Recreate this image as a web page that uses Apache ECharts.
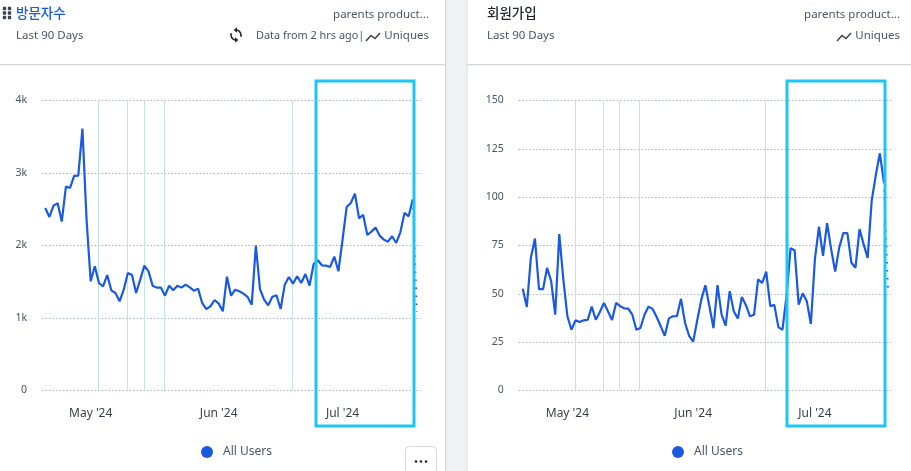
<!DOCTYPE html>
<html>
<head>
<meta charset="utf-8">
<style>html,body{margin:0;padding:0;background:#fff}#c{width:911px;height:471px}</style>
<script src="https://cdn.jsdelivr.net/npm/echarts@6/dist/echarts.min.js"></script>
</head>
<body>
<div id="c"></div>
<script>
var startDate = '2024-04-20';
var visitorValues = [2518,2394,2550,2582,2330,2812,2794,2960,2964,3613,2357,1506,1713,1483,1437,1593,1382,1345,1230,1391,1621,1593,1345,1529,1722,1644,1446,1419,1419,1308,1446,1382,1446,1419,1460,1423,1377,1405,1207,1124,1161,1248,1198,1092,1570,1308,1391,1368,1336,1290,1184,1998,1400,1253,1175,1294,1313,1124,1460,1566,1474,1575,1483,1607,1446,1745,1796,1727,1722,1704,1846,1644,2081,2532,2587,2716,2375,2421,2145,2191,2247,2136,2081,2053,2127,2035,2182,2449,2403,2633];
var visitorPartial = 1083;
var signupValues = [52.6,43.2,68.7,78.6,52.4,52.4,63.5,56.6,39.2,80.9,57.5,38.4,31.4,36.3,35.4,36.3,36.5,43.4,36.6,40.6,45.3,41,36.5,45.3,43.6,42.5,42.4,39.2,31.4,32.3,39.2,43.4,42.2,38,33.2,28.3,37.3,38.4,38.5,47.4,34.9,28.3,25.3,36.3,47,54.4,43.6,32.3,54.5,39.2,33.5,51.4,41,37.2,48.4,44.1,38.4,39.2,57.5,55.7,61.5,43.6,44.3,32.8,31.4,48.8,73.6,72.6,44.4,50.3,46.2,34.4,67.9,84.7,69.6,86.6,73.1,61.5,74,81.4,81.4,66.1,63.5,83.5,75.7,68.6,98.3,111.3,122.7,107.8];
var signupPartial = 52.8;
var monthTicks = ['2024-05-01','2024-06-01','2024-07-01'];
var annotationTimes = ['2024-05-02T20:00','2024-05-09T20:00','2024-05-13T21:00','2024-05-18T19:00','2024-06-18T19:00'];
var leftAxisStart = '2024-04-19T05:00';
var rightAxisStart = '2024-04-19T00:00';
var axisEnd = '2024-07-20';
var seriesName = 'All Users';
var monthNames = ['Jan','Feb','Mar','Apr','May','Jun','Jul','Aug','Sep','Oct','Nov','Dec'];

var DAY = 86400000;
var FONT = '"Noto Sans","Noto Sans CJK KR",sans-serif';
var BLUE = '#1a5ae0';
function ts(s){ return Date.parse((s.length===10 ? s+'T00:00' : s)+':00Z'); }
var T0 = ts(startDate);
function dayIndex(s){ return (ts(s)-T0)/DAY; }
function pairs(vals){ return vals.map(function(v,i){ return [i, v]; }); }
function partialPairs(vals, p){ var n = vals.length; return [[n-1, vals[n-1]],[n, p]]; }
function xAxis(idx,start){
  return {type:'value', gridIndex:idx, min:dayIndex(start), max:dayIndex(axisEnd),
    axisLine:{show:false}, axisTick:{show:false}, splitLine:{show:false},
    axisLabel:{customValues:monthTicks.map(dayIndex), margin:17, fontSize:12, fontFamily:FONT, color:'#3a3f47',
      formatter:function(v){ var d=new Date(T0+v*DAY); return monthNames[d.getUTCMonth()]+" '"+String(d.getUTCFullYear()).slice(2); }}};
}
function yAxis(idx,max,interval,fmt){
  return {type:'value', gridIndex:idx, min:0, max:max, interval:interval,
    axisLine:{show:false}, axisTick:{show:false},
    axisLabel:{margin:15, fontSize:10.5, fontFamily:FONT, color:'#4b5563', padding:[5,0,0,0], formatter:fmt},
    splitLine:{show:true, lineStyle:{type:[1.5,2], color:'#a7b3bf', width:1}}};
}
function lineSeries(idx,vals){
  return {name:seriesName, type:'line', xAxisIndex:idx, yAxisIndex:idx, data:pairs(vals), showSymbol:false, symbol:'none',
    lineStyle:{color:BLUE, width:2.2}, itemStyle:{color:BLUE}, z:3, silent:true, animation:false,
    markLine:{silent:true, symbol:'none', animation:false, label:{show:false}, z:1,
      lineStyle:{color:'#c3e5df', width:1, type:'solid'},
      data:annotationTimes.map(function(t){return {xAxis:dayIndex(t)};})}};
}
function partialSeries(idx,vals,p){
  return {name:'Partial', type:'line', xAxisIndex:idx, yAxisIndex:idx, data:partialPairs(vals,p), showSymbol:false, symbol:'none',
    lineStyle:{color:BLUE, width:2, type:[1.5,6.5]}, z:3, silent:true, animation:false};
}
function txt(s,x,y,size,fill,align,weight){
  return {type:'text', z:10, silent:true, style:{text:s, x:x, y:y, font:(weight||'400')+' '+size+'px '+FONT, fill:fill, align:align||'left', verticalAlign:'middle'}};
}
function rect(x,y,w,h,fill){ return {type:'rect', z:0, silent:true, shape:{x:x,y:y,width:w,height:h}, style:{fill:fill}}; }
function trend(ox){
  return {type:'polyline', z:10, silent:true, shape:{points:[[ox,41],[ox+5,35.5],[ox+9,38.5],[ox+14,33]]}, style:{stroke:'#3a3f47', lineWidth:1.4, fill:null}};
}
function box(x){
  return {type:'rect', z:20, silent:true, shape:{x:x,y:81,width:98,height:345}, style:{fill:null, stroke:'#1ec6f7', lineWidth:3}};
}
function arc(cx,cy,r,a,b){ return {type:'arc', z:10, silent:true, shape:{cx:cx,cy:cy,r:r,startAngle:a,endAngle:b,clockwise:true}, style:{stroke:'#23272e', lineWidth:1.6, fill:null}}; }
function tri(pts){ return {type:'polygon', z:10, silent:true, shape:{points:pts}, style:{fill:'#23272e'}}; }
var syncIcon = [
  arc(236,35,5,-1.7,0.35), arc(236,35,5,1.45,3.5),
  tri([[237,27.2],[237,32.8],[233.6,30]]),
  tri([[235,37.2],[235,42.8],[238.4,40]])
];
var grip = [];
[[4.5,8.5],[9.5,8.5],[4.5,13],[9.5,13],[4.5,17.5],[9.5,17.5]].forEach(function(p){
  grip.push({type:'rect', z:10, silent:true, shape:{x:p[0]-1.7,y:p[1]-1.7,width:3.4,height:3.4,r:0.8}, style:{fill:'#3d4350'}});
});
var dots = [];
[416,421,426].forEach(function(x){ dots.push({type:'circle', z:31, silent:true, shape:{cx:x,cy:461.5,r:1.3}, style:{fill:'#222'}}); });

var graphic = [
  rect(445,0,1.5,471,'#d5d8de'), rect(446.5,0,20,471,'#f0f1f3'), rect(466.5,0,1,471,'#d5d8de'),
  rect(0,64,445,1.2,'#d3d6dc'), rect(467,64,444,1.2,'#d3d6dc')
].concat(grip).concat(syncIcon).concat([
  txt('방문자수',16,14,13.5,'#1a5ae0','left','500'),
  txt('Last 90 Days',16,36,11.5,'#4b5563'),
  txt('parents product...',429,14.5,11.5,'#4b5563','right'),
  txt('Data from 2 hrs ago|',256,35.5,10.9,'#4b5563'),
  trend(366),
  txt('Uniques',429,35.5,11.5,'#4b5563','right'),
  txt('회원가입',487,14,13.5,'#23272e','left','500'),
  txt('Last 90 Days',487,36,11.5,'#4b5563'),
  txt('parents product...',900,14.5,11.5,'#4b5563','right'),
  trend(837),
  txt('Uniques',900,35.5,11.5,'#4b5563','right'),
  box(316), box(787),
  {type:'rect', z:30, silent:true, shape:{x:405.5,y:446.5,width:31,height:30,r:4}, style:{fill:'#fff', stroke:'#d5d8de', lineWidth:1}}
]).concat(dots);

var chart = echarts.init(document.getElementById('c'), null, {renderer:'canvas'});
chart.setOption({
  animation:false,
  backgroundColor:'#ffffff',
  textStyle:{fontFamily:FONT},
  grid:[
    {left:42, top:100.5, width:379, height:290, containLabel:false},
    {left:518.7, top:100.5, width:373.3, height:290, containLabel:false}
  ],
  xAxis:[xAxis(0,leftAxisStart), xAxis(1,rightAxisStart)],
  yAxis:[
    yAxis(0,4000,1000,function(v){return v===0?'0':(v/1000)+'k';}),
    yAxis(1,150,25,function(v){return String(v);})
  ],
  legend:[
    {data:[seriesName], left:196, top:441, icon:'circle', itemWidth:12, itemHeight:12, selectedMode:false, textStyle:{fontSize:12, fontFamily:FONT, color:'#4b5563', padding:[0,0,0,5]}},
    {data:[seriesName], left:667, top:441, icon:'circle', itemWidth:12, itemHeight:12, selectedMode:false, textStyle:{fontSize:12, fontFamily:FONT, color:'#4b5563', padding:[0,0,0,5]}}
  ],
  series:[
    lineSeries(0,visitorValues), partialSeries(0,visitorValues,visitorPartial),
    lineSeries(1,signupValues), partialSeries(1,signupValues,signupPartial)
  ],
  graphic:graphic
});
</script>
</body>
</html>
